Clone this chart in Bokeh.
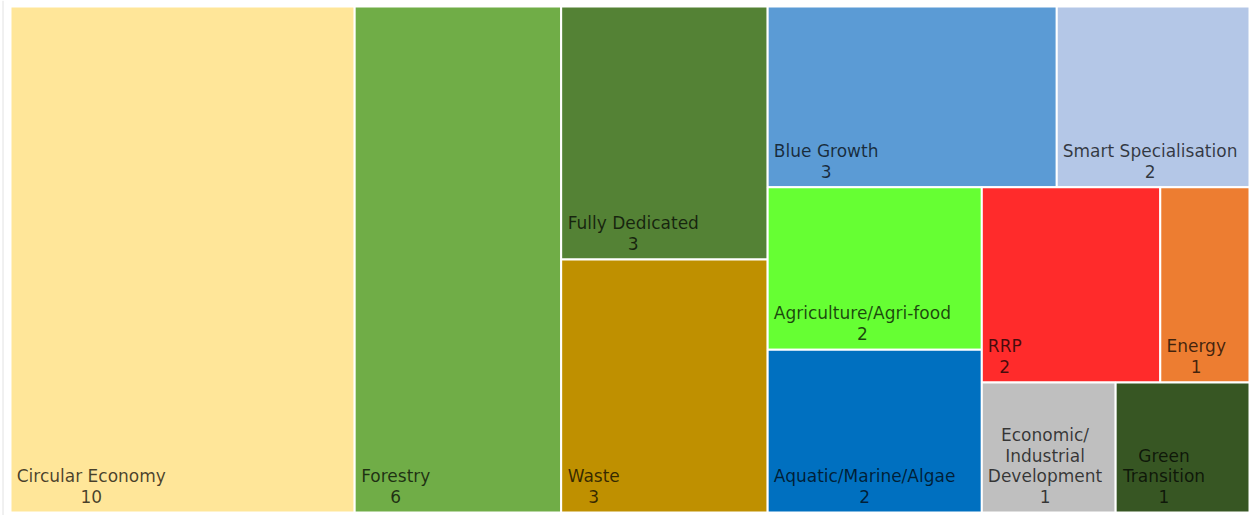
from bokeh.plotting import figure
from bokeh.models import ColumnDataSource, Range1d
from bokeh.core.properties import value
from bokeh.embed import file_html
from bokeh.resources import INLINE

# ---------------- data ----------------
categories = ["Circular Economy", "Forestry", "Fully Dedicated", "Waste", "Blue Growth",
              "Smart Specialisation", "Agriculture/Agri-food", "Aquatic/Marine/Algae",
              "RRP", "Energy", "Economic/Industrial Development", "Green Transition"]
counts = [10, 6, 3, 3, 3, 2, 2, 2, 2, 1, 1, 1]
colors = ["#FFE699", "#70AD47", "#548235", "#BF9000", "#5B9BD5", "#B4C7E7",
          "#66FF33", "#0070C0", "#FF2B2B", "#ED7D31", "#BFBFBF", "#375623"]

# ---------------- layout settings ----------------
W, H = 1251, 515
AREA = (10, 6, 1249, 512)          # x0, y0, x1, y1 in pixel-like data units (y downwards)
STRIPS = [1, 1, 2, 2, 2, 2, 1, 1]  # number of tiles per strip (slice along shorter side)
FONT = "DejaVu Sans"
FSIZE = 17
PAD = 6
LINE_STEP = 20.5
BOTTOM_GAP = 16

# DejaVu Sans advance widths (units per em = 2048)
ADV = {" ": 651, "/": 690, "-": 739,
       "a": 1255, "b": 1300, "c": 1126, "d": 1300, "e": 1260, "f": 721, "g": 1300, "h": 1298,
       "i": 569, "j": 569, "k": 1186, "l": 569, "m": 1995, "n": 1298, "o": 1253, "p": 1300,
       "q": 1300, "r": 842, "s": 1067, "t": 803, "u": 1298, "v": 1212, "w": 1675, "x": 1212,
       "y": 1212, "z": 1075,
       "A": 1401, "B": 1405, "C": 1430, "D": 1577, "E": 1294, "F": 1178, "G": 1587, "H": 1540,
       "I": 604, "J": 604, "K": 1343, "L": 1141, "M": 1767, "N": 1532, "O": 1612, "P": 1235,
       "Q": 1612, "R": 1423, "S": 1300, "T": 1251, "U": 1499, "V": 1401, "W": 2025, "X": 1403,
       "Y": 1251, "Z": 1403}


def tw(s):
    return sum(ADV.get(ch, 1303) for ch in s) / 2048.0 * FSIZE


def treemap(vals, strips, x0, y0, x1, y1):
    rects = []
    i = 0
    for n in strips:
        group = vals[i:i + n]
        s = float(sum(group))
        rem = float(sum(vals[i:]))
        w, h = x1 - x0, y1 - y0
        if w >= h:
            cw = w * s / rem
            yy = y0
            for v in group:
                hh = h * v / s
                rects.append((x0, yy, x0 + cw, yy + hh))
                yy += hh
            x0 += cw
        else:
            rh = h * s / rem
            xx = x0
            for v in group:
                ww = w * v / s
                rects.append((xx, y0, xx + ww, y0 + rh))
                xx += ww
            y0 += rh
        i += n
    return rects


def tokens(label):
    out = []
    for wi, word in enumerate(label.split(" ")):
        parts = word.split("/")
        for k, part in enumerate(parts):
            t = part + ("/" if k < len(parts) - 1 else "")
            sep = " " if (k == 0 and wi > 0) else ""
            out.append((sep, t))
    return out


def wrap(label, maxw):
    lines, cur = [], ""
    for sep, t in tokens(label):
        if cur == "":
            cur = t
        elif tw(cur + sep + t) <= maxw:
            cur = cur + sep + t
        else:
            lines.append(cur)
            cur = t
    lines.append(cur)
    return lines


rects = treemap(counts, STRIPS, *AREA)

p = figure(width=W, height=H, x_range=Range1d(0, W), y_range=Range1d(H, 0),
           output_backend="svg", toolbar_location=None, min_border=0)
p.axis.visible = False
p.grid.visible = False
p.outline_line_color = None
p.background_fill_color = "white"
p.border_fill_color = "white"

# thin frame line on the left edge of the visual
p.segment(x0=[2.5], y0=[0], x1=[2.5], y1=[H], line_color="#e2e2e2", line_width=1)

tiles = ColumnDataSource(dict(
    left=[r[0] for r in rects], right=[r[2] for r in rects],
    top=[r[1] for r in rects], bottom=[r[3] for r in rects],
    color=colors, name=categories, count=counts))
p.quad(left="left", right="right", top="top", bottom="bottom", fill_color="color",
       line_color="white", line_width=2, source=tiles)

tx, ty, tt = [], [], []
for (x0, y0, x1, y1), name, c in zip(rects, categories, counts):
    lines = wrap(name, (x1 - x0) - 2 * PAD + 4) + [str(c)]
    bw = max(tw(l) for l in lines)
    cx = x0 + PAD + bw / 2.0
    base = y1 - BOTTOM_GAP
    n = len(lines)
    for k, l in enumerate(lines):
        tx.append(cx)
        ty.append(base - (n - 1 - k) * LINE_STEP)
        tt.append(l)

labels = ColumnDataSource(dict(x=tx, y=ty, text=tt))
p.text(x="x", y="y", text="text", source=labels, text_font=value(FONT),
       text_font_size=value(f"{FSIZE}px"), text_align="center", text_baseline="alphabetic",
       text_color="black", text_alpha=0.72)

open("out.html", "w").write(file_html(p, INLINE))
